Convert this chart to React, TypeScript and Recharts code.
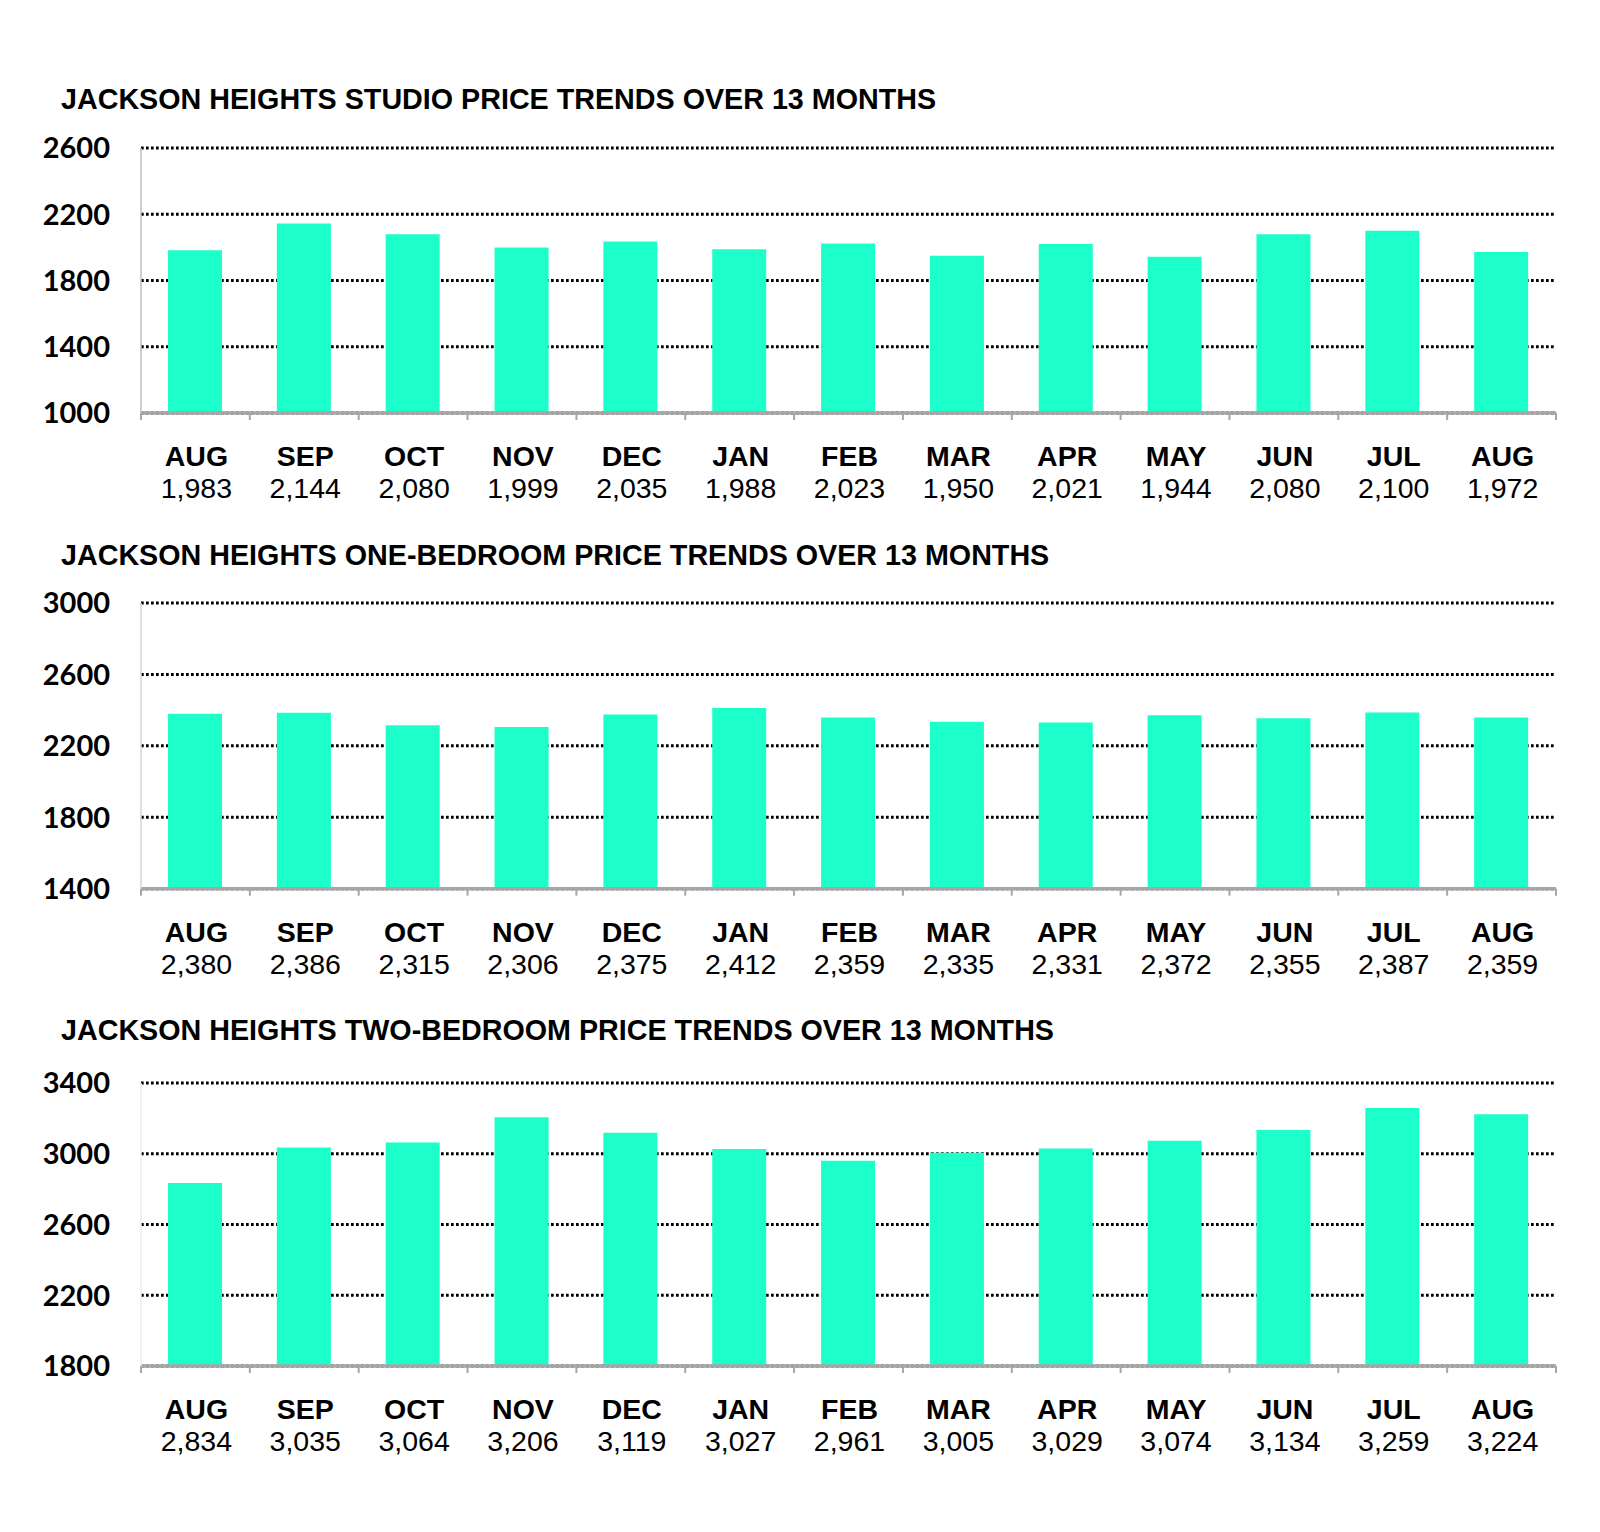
import { Bar, BarChart, CartesianGrid, XAxis, YAxis } from "recharts"

const months = ["AUG", "SEP", "OCT", "NOV", "DEC", "JAN", "FEB", "MAR", "APR", "MAY", "JUN", "JUL", "AUG"]

const studioPrices = [1983, 2144, 2080, 1999, 2035, 1988, 2023, 1950, 2021, 1944, 2080, 2100, 1972]
const oneBedPrices = [2380, 2386, 2315, 2306, 2375, 2412, 2359, 2335, 2331, 2372, 2355, 2387, 2359]
const twoBedPrices = [2834, 3035, 3064, 3206, 3119, 3027, 2961, 3005, 3029, 3074, 3134, 3259, 3224]

const studioTicks = [1000, 1400, 1800, 2200, 2600]
const oneBedTicks = [1400, 1800, 2200, 2600, 3000]
const twoBedTicks = [1800, 2200, 2600, 3000, 3400]

const studioTitle = "JACKSON HEIGHTS STUDIO PRICE TRENDS OVER 13 MONTHS"
const oneBedTitle = "JACKSON HEIGHTS ONE-BEDROOM PRICE TRENDS OVER 13 MONTHS"
const twoBedTitle = "JACKSON HEIGHTS TWO-BEDROOM PRICE TRENDS OVER 13 MONTHS"

const BAR_COLOR = "#1cffcb"
const AXIS_GRAY = "#a6a6a6"
const ARIAL = "'Liberation Sans', Arial, sans-serif"
const PLOT_LEFT = 141
const PLOT_RIGHT = 1556
const TOP_PAD = 20
const AXIS_H = 100
const TITLE_SIZE = 28.7

function MonthTick(props: any) {
  const { x, y, payload, index, values } = props
  const n = values.length
  const w = props.width ?? PLOT_RIGHT - PLOT_LEFT
  const half = w / n / 2
  return (
    <g>
      <line x1={x - half} x2={x - half} y1={y} y2={y + 7} stroke={AXIS_GRAY} strokeWidth={2} />
      {index === n - 1 && (
        <line x1={x + half} x2={x + half} y1={y} y2={y + 7} stroke={AXIS_GRAY} strokeWidth={2} />
      )}
      <text x={x + 1} y={y + 53} textAnchor="middle" fill="#000" fontFamily={ARIAL} fontWeight="bold" fontSize={28.5}>
        {payload.value}
      </text>
      <text x={x + 1} y={y + 85} textAnchor="middle" fill="#000" fontFamily={ARIAL} fontSize={28.5}>
        {values[index].toLocaleString("en-US")}
      </text>
    </g>
  )
}

type PriceChartProps = {
  title: string
  values: number[]
  ticks: number[]
  titleBaseline: number
  plotTop: number
  plotBottom: number
  leftAxisColor: string
  framed?: boolean
}

function PriceChart({ title, values, ticks, titleBaseline, plotTop, plotBottom, leftAxisColor, framed }: PriceChartProps) {
  const data = months.map((month, i) => ({ month, price: values[i] }))
  const plotHeight = plotBottom - plotTop
  const domain = [ticks[0], ticks[ticks.length - 1]]
  return (
    <>
      <div
        style={{
          position: "absolute",
          left: 61,
          top: titleBaseline - 24.3,
          fontFamily: ARIAL,
          fontWeight: "bold",
          fontSize: TITLE_SIZE,
          lineHeight: `${TITLE_SIZE}px`,
          whiteSpace: "nowrap",
          color: "#000",
        }}
      >
        {title}
      </div>
      <div style={{ position: "absolute", left: 0, top: plotTop - TOP_PAD }}>
        <BarChart
          width={1600}
          height={TOP_PAD + plotHeight + AXIS_H}
          data={data}
          margin={{ top: TOP_PAD, right: 1600 - PLOT_RIGHT, bottom: 0, left: 0 }}
          barSize={54}
        >
          <CartesianGrid
            yAxisId="left"
            vertical={false}
            stroke="#000"
            strokeWidth={3}
            strokeDasharray="2.7 2.3"
          />
          <XAxis
            dataKey="month"
            height={AXIS_H}
            interval={0}
            tickSize={0}
            tickMargin={0}
            tickLine={false}
            axisLine={{ stroke: AXIS_GRAY, strokeWidth: 3.6 }}
            tick={<MonthTick values={values} />}
          />
          <YAxis
            yAxisId="left"
            domain={domain}
            ticks={ticks}
            width={PLOT_LEFT}
            tickLine={false}
            tickSize={0}
            tickMargin={31}
            axisLine={{ stroke: leftAxisColor, strokeWidth: 1.5 }}
            tick={{ fill: "#000", fontFamily: "Lato", fontWeight: 700, fontSize: 29 }}
          />
          {framed && (
            <YAxis
              yAxisId="right"
              orientation="right"
              domain={domain}
              width={0}
              tick={false}
              tickLine={false}
              axisLine={{ stroke: "#ececec", strokeWidth: 1.5 }}
            />
          )}
          <Bar yAxisId="left" dataKey="price" fill={BAR_COLOR} isAnimationActive={false} />
        </BarChart>
      </div>
    </>
  )
}

export default function App() {
  return (
    <div style={{ position: "absolute", left: 0, top: 0, width: 1600, height: 1532, background: "#fff" }}>
      <PriceChart
        title={studioTitle}
        values={studioPrices}
        ticks={studioTicks}
        titleBaseline={109.3}
        plotTop={148.3}
        plotBottom={413.3}
        leftAxisColor="#bfbfbf"
      />
      <PriceChart
        title={oneBedTitle}
        values={oneBedPrices}
        ticks={oneBedTicks}
        titleBaseline={565}
        plotTop={603.3}
        plotBottom={889}
        leftAxisColor="#d6d6d6"
      />
      <PriceChart
        title={twoBedTitle}
        values={twoBedPrices}
        ticks={twoBedTicks}
        titleBaseline={1040.7}
        plotTop={1082.7}
        plotBottom={1365.7}
        leftAxisColor="#ececec"
        framed
      />
    </div>
  )
}
